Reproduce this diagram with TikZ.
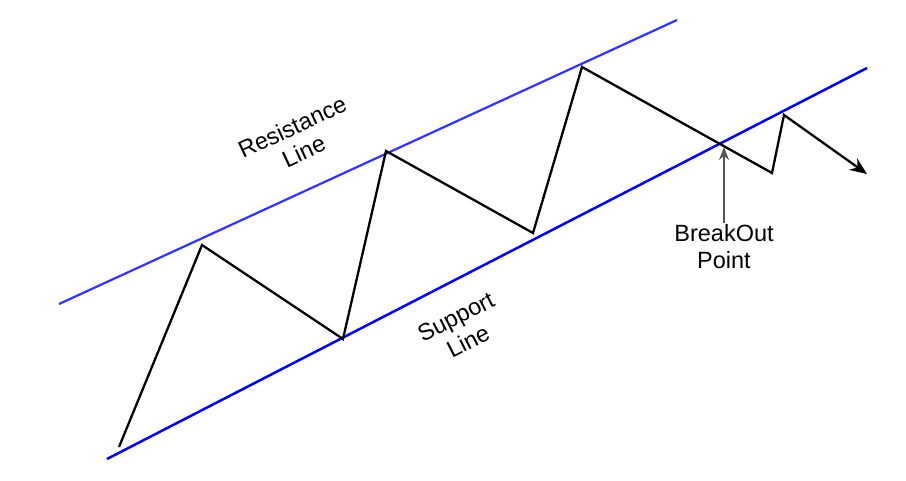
\documentclass[tikz,border=0pt]{standalone}
\usepackage{fontspec}
\setmainfont{Liberation Sans}
\usetikzlibrary{arrows.meta}
\definecolor{resblue}{HTML}{3333FF}
\definecolor{supblue}{HTML}{0000EE}
\definecolor{arrgray}{HTML}{555555}
\begin{document}
\begin{tikzpicture}[x=1pt,y=-1pt,
  resline/.style={draw=resblue,line width=2.2pt},
  supline/.style={draw=supblue,line width=2.5pt},
  price/.style={draw=black,line width=2.3pt,line join=miter},
  lbl/.style={font=\fontsize{23.5}{27}\selectfont,align=center,inner sep=0pt},
  pointer/.style={draw=arrgray,line width=1.6pt,-{Stealth[length=13pt,width=10pt]}}
]
\useasboundingbox (0,0) rectangle (906,481);
% channel lines
\coordinate (r1) at (59,304);
\coordinate (r2) at (677,20);
\coordinate (s1) at (107,459);
\coordinate (s2) at (867,68);
\draw[resline] (r1) -- (r2);
\draw[supline] (s1) -- (s2);
% price path
\coordinate (p0) at (119,447);
\coordinate (p1) at (202,245);
\coordinate (p2) at (343,339);
\coordinate (p3) at (386,151);
\coordinate (p4) at (533,233);
\coordinate (p5) at (582,67);
\coordinate (p6) at (772,173);
\coordinate (p7) at (784,115);
\coordinate (p8) at (867,174);
\draw[price,-{Stealth[length=17pt,width=14pt]}] (p0) -- (p1) -- (p2) -- (p3) -- (p4) -- (p5) -- (p6) -- (p7) -- (p8);
% labels
\node[lbl,rotate=25] (res) at (298,139) {Resistance\\Line};
\node[lbl,rotate=27] (sup) at (462,329) {Support\\Line};
\node[lbl] (bo) at (724,247) {BreakOut\\Point};
\coordinate (bp) at (724,147);
\draw[pointer] (bo.north) ++(0,-2) coordinate (bstart) (bstart) -- (bp);
\end{tikzpicture}
\end{document}
